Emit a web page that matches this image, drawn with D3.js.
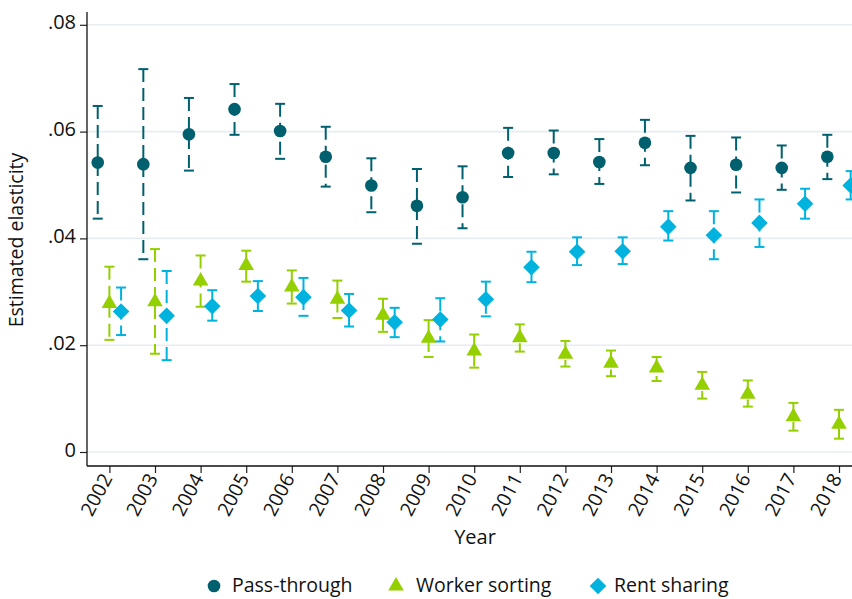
<!DOCTYPE html>
<html>
<head>
<meta charset="utf-8">
<script src="https://cdn.jsdelivr.net/npm/d3@7"></script>
<style>
html,body{margin:0;padding:0;background:#fff;}
svg{display:block;}
text{font-family:"Open Sans",sans-serif;fill:#111;}
</style>
</head>
<body>
<svg id="chart" width="852" height="599"></svg>
<script>
const years = [2002,2003,2004,2005,2006,2007,2008,2009,2010,2011,2012,2013,2014,2015,2016,2017,2018];

const passEst = [0.0542,0.0539,0.0595,0.0642,0.0601,0.0553,0.0499,0.0461,0.0477,0.0560,0.0560,0.0543,0.0579,0.0532,0.0538,0.0532,0.0553];
const passHi  = [0.0648,0.0717,0.0663,0.0689,0.0652,0.0609,0.0550,0.0530,0.0535,0.0607,0.0602,0.0586,0.0622,0.0592,0.0589,0.0574,0.0594];
const passLo  = [0.0437,0.0361,0.0527,0.0594,0.0549,0.0497,0.0449,0.0390,0.0419,0.0515,0.0520,0.0502,0.0537,0.0471,0.0486,0.0491,0.0511];

const sortEst = [0.0280,0.0283,0.0322,0.0351,0.0311,0.0288,0.0258,0.0215,0.0191,0.0216,0.0185,0.0168,0.0159,0.0127,0.0110,0.0068,0.0054];
const sortHi  = [0.0347,0.0380,0.0368,0.0377,0.0340,0.0321,0.0287,0.0247,0.0220,0.0239,0.0208,0.0190,0.0178,0.0150,0.0134,0.0092,0.0079];
const sortLo  = [0.0210,0.0184,0.0272,0.0319,0.0278,0.0251,0.0225,0.0178,0.0158,0.0188,0.0160,0.0142,0.0133,0.0100,0.0085,0.0040,0.0025];

const rentEst = [0.0263,0.0255,0.0273,0.0292,0.0290,0.0265,0.0243,0.0248,0.0286,0.0346,0.0375,0.0376,0.0422,0.0406,0.0429,0.0465,0.0499];
const rentHi  = [0.0308,0.0339,0.0303,0.0320,0.0326,0.0296,0.0270,0.0288,0.0319,0.0375,0.0402,0.0402,0.0451,0.0451,0.0473,0.0493,0.0526];
const rentLo  = [0.0219,0.0172,0.0246,0.0264,0.0255,0.0235,0.0215,0.0207,0.0254,0.0318,0.0350,0.0352,0.0396,0.0361,0.0384,0.0437,0.0473];

const yTicks = [0,0.02,0.04,0.06,0.08];
const yTickLabels = ["0",".02",".04",".06",".08"];
const seriesNames = ["Pass-through","Worker sorting","Rent sharing"];
const seriesColors = ["#00606e","#94cf00","#00b3df"];
const seriesOffsets = [-0.256,0,0.256];

const FONT = "'Open Sans', sans-serif";
const svg = d3.select("#chart");
const plotL = 87, plotR = 852, plotT = 12, plotB = 466;

const x = d3.scaleLinear().domain([2002,2018]).range([109.4,839]);
const y = d3.scaleLinear().domain([0,0.08]).range([452,24.8]);

// gridlines
svg.append("g").selectAll("line").data(yTicks).join("line")
  .attr("x1",plotL).attr("x2",plotR)
  .attr("y1",d=>y(d)).attr("y2",d=>y(d))
  .attr("stroke","#e6eef2").attr("stroke-width",1.6);

// y axis
const yAxis = d3.axisLeft(y).tickValues(yTicks).tickFormat((d,i)=>yTickLabels[i]).tickSize(7).tickPadding(4);
const gy = svg.append("g").attr("transform",`translate(${plotL},0)`).call(yAxis);
gy.select(".domain").remove();
gy.selectAll("line").attr("stroke","#222").attr("stroke-width",1.2);
gy.selectAll("text").attr("font-size",20).attr("font-family",FONT).attr("fill","#111").attr("dy","0.2em");
svg.append("line").attr("x1",plotL).attr("x2",plotL).attr("y1",plotT).attr("y2",plotB).attr("stroke","#111").attr("stroke-width",1.3);

// x axis
const xAxis = d3.axisBottom(x).tickValues(years).tickFormat(d3.format("d")).tickSize(7).tickPadding(2);
const gx = svg.append("g").attr("transform",`translate(0,${plotB})`).call(xAxis);
gx.select(".domain").remove();
gx.selectAll("line").attr("stroke","#222").attr("stroke-width",1.2);
gx.selectAll("text")
  .attr("font-size",19.5).attr("font-family",FONT).attr("fill","#111")
  .attr("text-anchor","end")
  .attr("dy","0.35em")
  .attr("transform","translate(-3,9) rotate(-62)")
  .attr("x",0).attr("y",0);
svg.append("line").attr("x1",plotL).attr("x2",plotR).attr("y1",plotB).attr("y2",plotB).attr("stroke","#111").attr("stroke-width",1.3);

// axis titles
svg.append("text").attr("x",475).attr("y",544).attr("text-anchor","middle").attr("font-size",20).text("Year");
svg.append("text").attr("transform","translate(23,240) rotate(-90)").attr("text-anchor","middle").attr("font-size",19.5).text("Estimated elasticity");

const seriesData = [
  {est:passEst,hi:passHi,lo:passLo},
  {est:sortEst,hi:sortHi,lo:sortLo},
  {est:rentEst,hi:rentHi,lo:rentLo}
];

svg.append("clipPath").attr("id","plotclip").append("rect")
  .attr("x",plotL).attr("y",0).attr("width",plotR-plotL).attr("height",plotB);

const plot = svg.append("g").attr("clip-path","url(#plotclip)");

const diamondPath = d3.path();
diamondPath.moveTo(0,-8.3); diamondPath.lineTo(8.3,0); diamondPath.lineTo(0,8.3); diamondPath.lineTo(-8.3,0); diamondPath.closePath();

function markerPath(k){
  if(k===0) return d3.symbol().type(d3.symbolCircle).size(125)();
  if(k===1) return d3.symbol().type(d3.symbolTriangle).size(105)();
  return diamondPath.toString();
}

seriesData.forEach((s,k)=>{
  const g = plot.append("g");
  const rows = years.map((yr,i)=>({yr,est:s.est[i],hi:s.hi[i],lo:s.lo[i]}));
  const xp = d=>x(d.yr+seriesOffsets[k]);
  g.selectAll("line.bar").data(rows).join("line").attr("class","bar")
    .attr("x1",xp).attr("x2",xp).attr("y1",d=>y(d.hi)).attr("y2",d=>y(d.lo))
    .attr("stroke",seriesColors[k]).attr("stroke-width",2).attr("stroke-dasharray","13,6");
  g.selectAll("line.capT").data(rows).join("line").attr("class","capT")
    .attr("x1",d=>xp(d)-5).attr("x2",d=>xp(d)+5).attr("y1",d=>y(d.hi)).attr("y2",d=>y(d.hi))
    .attr("stroke",seriesColors[k]).attr("stroke-width",2);
  g.selectAll("line.capB").data(rows).join("line").attr("class","capB")
    .attr("x1",d=>xp(d)-5).attr("x2",d=>xp(d)+5).attr("y1",d=>y(d.lo)).attr("y2",d=>y(d.lo))
    .attr("stroke",seriesColors[k]).attr("stroke-width",2);
  const shape = markerPath(k);
  g.selectAll("path.mk").data(rows).join("path").attr("class","mk")
    .attr("d",shape)
    .attr("transform",d=>`translate(${xp(d)},${y(d.est) + (k===1?1:0)})`)
    .attr("fill",seriesColors[k]);
});

// legend
const legendItems = [
  {sx:214, tx:232},
  {sx:396, tx:416},
  {sx:598, tx:614}
];
const lg = svg.append("g");
seriesNames.forEach((name,k)=>{
  lg.append("path").attr("d",markerPath(k))
    .attr("transform",`translate(${legendItems[k].sx},586)`)
    .attr("fill",seriesColors[k]);
  lg.append("text").attr("x",legendItems[k].tx).attr("y",592).attr("font-size",19.5).text(name);
});
</script>
</body>
</html>
